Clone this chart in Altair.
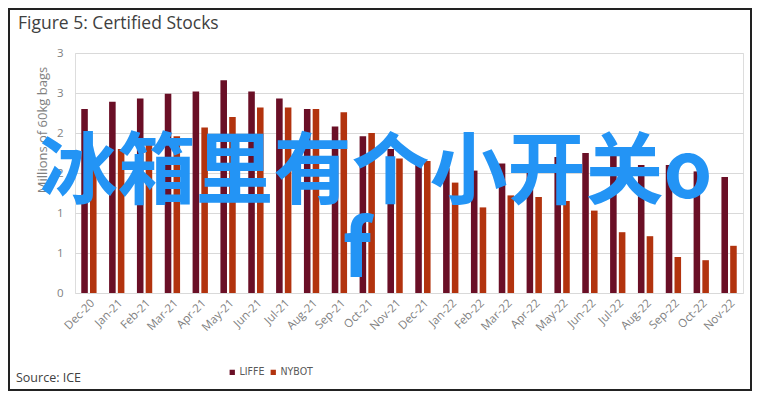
import altair as alt
import pandas as pd

months = ["Dec-20", "Jan-21", "Feb-21", "Mar-21", "Apr-21", "May-21", "Jun-21", "Jul-21",
          "Aug-21", "Sep-21", "Oct-21", "Nov-21", "Dec-21", "Jan-22", "Feb-22", "Mar-22",
          "Apr-22", "May-22", "Jun-22", "Jul-22", "Aug-22", "Sep-22", "Oct-22", "Nov-22"]
liffe = [2.30, 2.39, 2.43, 2.49, 2.52, 2.66, 2.52, 2.43, 2.30, 2.08, 1.96, 1.80,
         1.64, 1.56, 1.53, 1.62, 1.57, 1.70, 1.75, 1.78, 1.60, 1.60, 1.52, 1.45]
nybot = [1.55, 1.80, 1.90, 1.96, 2.07, 2.20, 2.32, 2.32, 2.30, 2.26, 2.00, 1.68,
         1.65, 1.38, 1.07, 1.22, 1.20, 1.15, 1.03, 0.76, 0.71, 0.45, 0.41, 0.59]
series = ["LIFFE", "NYBOT"]
colors = ["#6A0F26", "#B2330E"]
y_ticks = [0, 0.5, 1, 1.5, 2, 2.5, 3]

title_text = "Figure 5: Certified Stocks"
source_text = "Source: ICE"
y_title = "Millions of 60kg bags"
overlay_line1 = "冰箱里有个小开关o"
overlay_line2 = "f"

rows = []
for i, m in enumerate(months):
    rows.append({"month": m, "series": "LIFFE", "value": liffe[i]})
    rows.append({"month": m, "series": "NYBOT", "value": nybot[i]})
df = pd.DataFrame(rows)

W, H = 668, 240

bars = alt.Chart(df).mark_bar().encode(
    x=alt.X("month:N", sort=months,
            scale=alt.Scale(paddingInner=0.45, paddingOuter=0.225),
            axis=alt.Axis(title=None, labelAngle=-45, labelAlign="right", labelBaseline="top",
                          labelPadding=4, ticks=False, domain=False, grid=False,
                          labelColor="#7f7f7f", labelFontSize=11.5, labelFont="Open Sans")),
    xOffset=alt.XOffset("series:N", sort=series, scale=alt.Scale(paddingInner=0.25)),
    y=alt.Y("value:Q", scale=alt.Scale(domain=[0, 3], nice=False),
            axis=alt.Axis(values=y_ticks, format=".0f", title=None, ticks=False, domain=False,
                          grid=True, gridColor="#d9d9d9", labelPadding=12,
                          labelColor="#7f7f7f", labelFontSize=11.5, labelFont="Open Sans")),
    color=alt.Color("series:N", sort=series, scale=alt.Scale(domain=series, range=colors),
                    legend=alt.Legend(title=None, orient="none", legendX=152, legendY=314,
                                      direction="horizontal", symbolType="square", symbolSize=28,
                                      symbolStrokeWidth=0, labelFontSize=10.5, labelColor="#595959",
                                      labelFont="DejaVu Sans Condensed",
                                      columnPadding=3, labelOffset=2)),
)

ytitle = alt.Chart(pd.DataFrame({"t": [y_title]})).mark_text(
    align="center", baseline="middle", angle=270, fontSize=13, font="Open Sans", color="#7f7f7f"
).encode(text="t:N", x=alt.value(-32), y=alt.value(77))

title = alt.Chart(pd.DataFrame({"t": [title_text]})).mark_text(
    align="left", baseline="alphabetic", fontSize=17.5, font="Open Sans", color="#404040"
).encode(text="t:N", x=alt.value(-57), y=alt.value(-24))

source = alt.Chart(pd.DataFrame({"t": [source_text]})).mark_text(
    align="left", baseline="alphabetic", fontSize=12.5, font="Open Sans", color="#404040"
).encode(text="t:N", x=alt.value(-59), y=alt.value(329))

ov1 = alt.Chart(pd.DataFrame({"t": [overlay_line1]})).mark_text(
    align="center", baseline="alphabetic", fontSize=78, font="Noto Sans CJK SC",
    fontWeight="bold", color="#2394F5"
).encode(text="t:N", x=alt.value(301), y=alt.value(145))

ov2 = alt.Chart(pd.DataFrame({"t": [overlay_line2]})).mark_text(
    align="center", baseline="alphabetic", fontSize=78, font="Noto Sans CJK SC",
    fontWeight="bold", color="#2394F5"
).encode(text="t:N", x=alt.value(282), y=alt.value(224))

frame = alt.Chart(pd.DataFrame({"a": [0]})).mark_rect(
    fill=None, stroke="#222222", strokeWidth=2
).encode(x=alt.value(-66), x2=alt.value(676), y=alt.value(-44), y2=alt.value(337))

chart = alt.layer(bars, ytitle, title, source, ov1, ov2, frame).properties(
    width=W, height=H,
    autosize=alt.AutoSizeParams(type="none"),
    padding={"left": 67, "top": 45, "right": 9, "bottom": 98},
).configure_view(stroke=None).configure(background="white")

chart.save("out.html", embed_options={"renderer": "svg", "actions": False})
